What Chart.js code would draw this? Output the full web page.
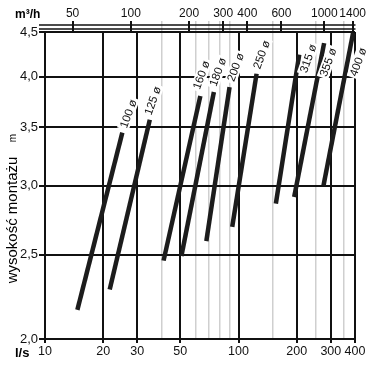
<!DOCTYPE html>
<html>
<head>
<meta charset="utf-8">
<script src="https://cdn.jsdelivr.net/npm/chart.js@4"></script>
<style>
html, body { margin: 0; padding: 0; background: #fff; }
</style>
</head>
<body>
<canvas id="myChart" width="379" height="367"></canvas>
<script>
"use strict";

// pipe diameters and the ends of each working range (flow l/s, mounting height m)
const pipeNames = ['100 ø', '125 ø', '160 ø', '180 ø', '200 ø', '250 ø', '315 ø', '355 ø', '400 ø'];
const flowMin = [14.7, 21.6, 41.0, 50.7, 68.2, 92.8, 156, 194, 275];
const flowMax = [25.1, 34.8, 63.5, 74.6, 89.9, 124, 206, 277, 391];
const heightMin = [2.16, 2.28, 2.46, 2.49, 2.59, 2.69, 2.86, 2.91, 3.0];
const heightMax = [3.45, 3.57, 3.80, 3.84, 3.89, 4.03, 4.24, 4.37, 4.49];

// axes
const flowTicks = [10, 20, 30, 40, 50, 60, 70, 80, 90, 100, 150, 200, 250, 300, 350, 400];
const flowLabels = [10, 20, 30, 50, 100, 200, 300, 400];
const airTicks = [50, 100, 200, 300, 400, 600, 1000, 1400];
const heightTicks = [2.0, 2.5, 3.0, 3.5, 4.0, 4.5];

const M3H_PER_LS = 3.6;
// label placement relative to the upper end of each line (px)
const labelShift = [[6, -19], [3, -19], [1, -21], [4, -20], [6, -20], [5, -19], [9, 4], [4, 19], [5, 29]];

const FONT = "'Liberation Sans', Arial, Helvetica, sans-serif";
Chart.defaults.font.family = FONT;
Chart.defaults.color = '#111';

const airMinor = flowTicks.filter(v => !flowLabels.includes(v)).map(v => v * M3H_PER_LS);
const airAll = airTicks.concat(airMinor).sort((a, b) => a - b);

function setTicks(list) {
    return function (scale) {
        scale.ticks = list.map(v => ({ value: v }));
    };
}

const decor = {
    id: 'decor',
    afterDraw(chart) {
        const ctx = chart.ctx;
        const a = chart.chartArea;
        const x = chart.scales.x;
        const y = chart.scales.y;
        ctx.save();

        // double rule of the top axis
        ctx.strokeStyle = '#111';
        ctx.lineWidth = 1.5;
        [25, 29].forEach(function (ly) {
            ctx.beginPath();
            ctx.moveTo(39, ly);
            ctx.lineTo(a.right + 0.5, ly);
            ctx.stroke();
        });

        // pipe labels
        ctx.font = '11.5px ' + FONT;
        ctx.textAlign = 'center';
        ctx.textBaseline = 'middle';
        pipeNames.forEach(function (name, i) {
            const px = x.getPixelForValue(flowMax[i]) + labelShift[i][0];
            const py = y.getPixelForValue(heightMax[i]) + labelShift[i][1];
            const w = ctx.measureText(name).width;
            ctx.save();
            ctx.translate(px, py);
            ctx.rotate(-70 * Math.PI / 180);
            ctx.fillStyle = '#fff';
            ctx.fillRect(-w / 2 - 2, -6, w + 4, 12);
            ctx.fillStyle = '#111';
            ctx.fillText(name, 0, 0.5);
            ctx.restore();
        });

        // unit captions
        ctx.font = 'bold 12px ' + FONT;
        ctx.textAlign = 'left';
        ctx.textBaseline = 'alphabetic';
        ctx.fillText('m³/h', 15, 18);
        ctx.font = 'bold 13px ' + FONT;
        ctx.fillText('l/s', 15, 357);

        // y axis title
        ctx.save();
        ctx.translate(17, 220);
        ctx.rotate(-Math.PI / 2);
        ctx.textAlign = 'center';
        ctx.font = '15px ' + FONT;
        ctx.fillText('wysokość montażu', 0, 0);
        ctx.font = '10px ' + FONT;
        ctx.fillText('m', 82, -1);
        ctx.restore();

        ctx.restore();
    }
};

const ctx = document.getElementById('myChart');
const chart = new Chart(ctx, {
    type: 'line',
    data: {
        datasets: pipeNames.map(function (name, i) {
            return {
                label: name,
                data: [{ x: flowMin[i], y: heightMin[i] }, { x: flowMax[i], y: heightMax[i] }],
                borderColor: '#1c1c1c',
                borderWidth: 4.5,
                borderCapStyle: 'butt',
                pointRadius: 0,
                fill: false,
                tension: 0
            };
        })
    },
    options: {
        responsive: false,
        animation: false,
        events: [],
        layout: { padding: { left: 0, right: 24, top: 0, bottom: 0 } },
        plugins: { legend: { display: false }, tooltip: { enabled: false } },
        scales: {
            x: {
                type: 'logarithmic',
                position: 'bottom',
                min: 10,
                max: 400,
                afterBuildTicks: setTicks(flowTicks),
                afterFit: function (s) { s.height = 28; },
                border: { display: false },
                grid: {
                    tickLength: 4,
                    color: c => flowLabels.includes(c.tick.value) ? '#111' : '#cfcfcf',
                    tickColor: c => flowLabels.includes(c.tick.value) ? '#111' : 'rgba(0,0,0,0)',
                    lineWidth: c => flowLabels.includes(c.tick.value) ? 2 : 1.5
                },
                ticks: {
                    autoSkip: false,
                    maxRotation: 0,
                    padding: 1,
                    font: { size: 12.5 },
                    callback: v => flowLabels.includes(v) ? String(v) : ''
                }
            },
            x2: {
                type: 'logarithmic',
                axis: 'x',
                position: 'top',
                min: 10 * M3H_PER_LS,
                max: 400 * M3H_PER_LS,
                afterBuildTicks: setTicks(airAll),
                afterFit: function (s) { s.height = 32; },
                border: { display: false },
                grid: {
                    drawOnChartArea: false,
                    tickLength: 11,
                    tickColor: c => airTicks.includes(c.tick.value) ? '#111' : '#cfcfcf',
                    lineWidth: c => airTicks.includes(c.tick.value) ? 2 : 1.5
                },
                ticks: {
                    autoSkip: false,
                    maxRotation: 0,
                    padding: 0,
                    font: { size: 12 },
                    callback: v => airTicks.includes(v) ? String(v) : ''
                }
            },
            y: {
                type: 'logarithmic',
                min: 2,
                max: 4.5,
                afterBuildTicks: setTicks(heightTicks),
                afterFit: function (s) { s.width = 45; },
                border: { display: false },
                grid: { tickLength: 6, color: '#111', tickColor: '#111', lineWidth: 2 },
                ticks: {
                    autoSkip: false,
                    padding: 1,
                    font: { size: 13 },
                    callback: v => v.toFixed(1).replace('.', ',')
                }
            }
        }
    },
    plugins: [decor]
});
</script>
</body>
</html>
